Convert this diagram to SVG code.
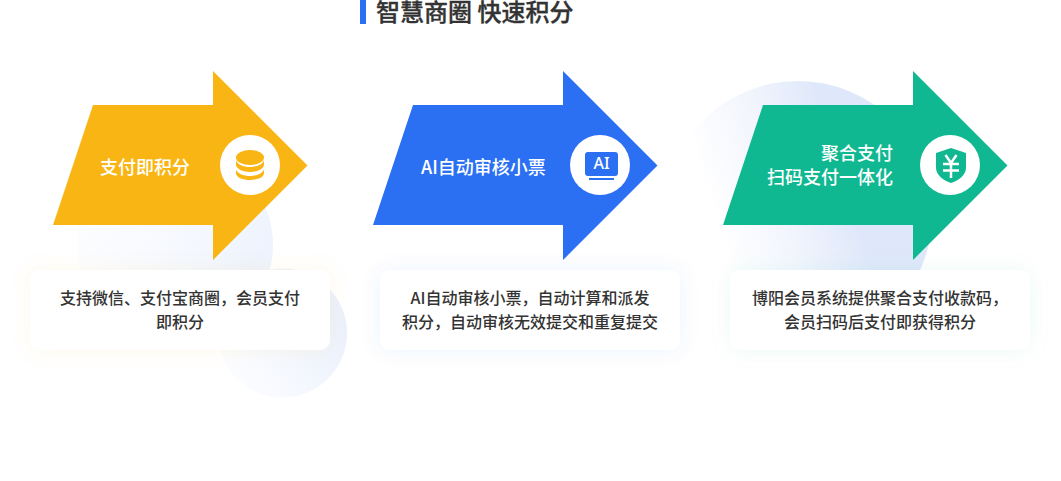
<svg xmlns="http://www.w3.org/2000/svg" width="1061" height="481" viewBox="0 0 1061 481">
<defs>
<linearGradient id="bgA" x1="0.1" y1="0.2" x2="0.9" y2="0.6"><stop offset="0" stop-color="#f7f9fe" stop-opacity="0.3"/><stop offset="1" stop-color="#eef3fd"/></linearGradient>
<linearGradient id="bgB" x1="0.1" y1="0.7" x2="0.9" y2="0.2"><stop offset="0" stop-color="#fbfcff"/><stop offset="1" stop-color="#eaf0fc"/></linearGradient>
<linearGradient id="bgC" gradientUnits="userSpaceOnUse" x1="690" y1="140" x2="820" y2="100"><stop offset="0" stop-color="#ffffff"/><stop offset="0.5" stop-color="#f2f5fd"/><stop offset="1" stop-color="#dfe8fa"/></linearGradient>
<filter id="glowY" x="-15%" y="-50%" width="130%" height="200%"><feDropShadow dx="0" dy="0" stdDeviation="10" flood-color="#f9b514" flood-opacity="0.08"/></filter>
<filter id="glowB" x="-15%" y="-50%" width="130%" height="200%"><feDropShadow dx="0" dy="0" stdDeviation="10" flood-color="#2b70f3" flood-opacity="0.08"/></filter>
<filter id="glowG" x="-15%" y="-50%" width="130%" height="200%"><feDropShadow dx="0" dy="0" stdDeviation="10" flood-color="#10b891" flood-opacity="0.08"/></filter>
</defs>
<style>
text{font-family:"Noto Sans CJK SC","Liberation Sans",sans-serif;}
.card{fill:#fff;}
.desc{font-size:16px;font-weight:500;fill:#333;text-anchor:middle;}
.label{font-size:18px;font-weight:500;fill:#fff;}
.title{font-size:24px;font-weight:500;fill:#333;stroke:#333;stroke-width:0.35px;}
.disc{fill:#fff;}
</style>
<rect width="1061" height="481" fill="#fff"/>
<g id="background">
<circle cx="175" cy="245" r="98" fill="url(#bgA)"/>
<circle cx="282.500" cy="333" r="64.500" fill="url(#bgB)"/>
<circle cx="798" cy="215" r="134" fill="url(#bgC)"/>
</g>
<g id="title">
<rect x="360" y="0" width="6" height="24" fill="#2b70f3"/>
<text class="title" x="376" y="21">智慧商圈 快速积分</text>
</g>
<g id="node-pay">
<path d="M53 225L93 105H213V71L307.500 165.500L213 260V225Z" fill="#f9b514"/>
<circle class="disc" cx="250" cy="165" r="30"/>
<ellipse cx="250" cy="157.500" rx="14" ry="7.500" fill="#f9b514"/>
<path d="M236 160.500C238 165 244 167 250 167C256 167 262 165 264 160.500V164.500C264 169 257 172 250 172C243 172 236 169 236 164.500Z" fill="#f9b514"/>
<path d="M236 169.500C238 174 244 176 250 176C256 176 262 174 264 169.500V173C264 177.500 257 180 250 180C243 180 236 177.500 236 173Z" fill="#f9b514"/>
<text class="label" x="100" y="174">支付即积分</text>
</g>
<g id="node-ai">
<path d="M373 225L413 105H563V71L657.500 165.500L563 260V225Z" fill="#2b70f3"/>
<circle class="disc" cx="600" cy="165" r="30"/>
<rect x="585" y="152" width="33" height="24" rx="3" fill="#2b70f3"/>
<rect x="589" y="178" width="25" height="2" fill="#2b70f3"/>
<text x="601.500" y="169" font-size="16" font-weight="500" fill="#fff" text-anchor="middle" style="font-family:'Noto Sans',sans-serif">AI</text>
<text class="label" x="421" y="174">AI自动审核小票</text>
</g>
<g id="node-merge">
<path d="M723 225L763 105H913V71L1007.500 165.500L913 260V225Z" fill="#10b891"/>
<circle class="disc" cx="950" cy="165" r="30"/>
<path d="M951 148L966 153V168C966 175 958 181 951 183C944 181 936 175 936 168V153Z" fill="#10b891"/>
<path d="M945.500 155L951 163L956.500 155M943 164H959M943 170.500H959M951 163V178" fill="none" stroke="#fff" stroke-width="2.500"/>
<text class="label" x="893" y="160" text-anchor="end">聚合支付</text>
<text class="label" x="893" y="184" text-anchor="end">扫码支付一体化</text>
</g>
<g id="card-pay">
<rect class="card" x="30" y="270" width="300" height="80" rx="10" filter="url(#glowY)"/>
<text class="desc" x="180" y="304">支持微信、支付宝商圈，会员支付</text>
<text class="desc" x="180" y="328">即积分</text>
</g>
<g id="card-ai">
<rect class="card" x="380" y="270" width="300" height="80" rx="10" filter="url(#glowB)"/>
<text class="desc" x="530" y="304">AI自动审核小票，自动计算和派发</text>
<text class="desc" x="530" y="328">积分，自动审核无效提交和重复提交</text>
</g>
<g id="card-merge">
<rect class="card" x="730" y="270" width="300" height="80" rx="10" filter="url(#glowG)"/>
<text class="desc" x="880" y="304">博阳会员系统提供聚合支付收款码，</text>
<text class="desc" x="880" y="328">会员扫码后支付即获得积分</text>
</g>
</svg>
